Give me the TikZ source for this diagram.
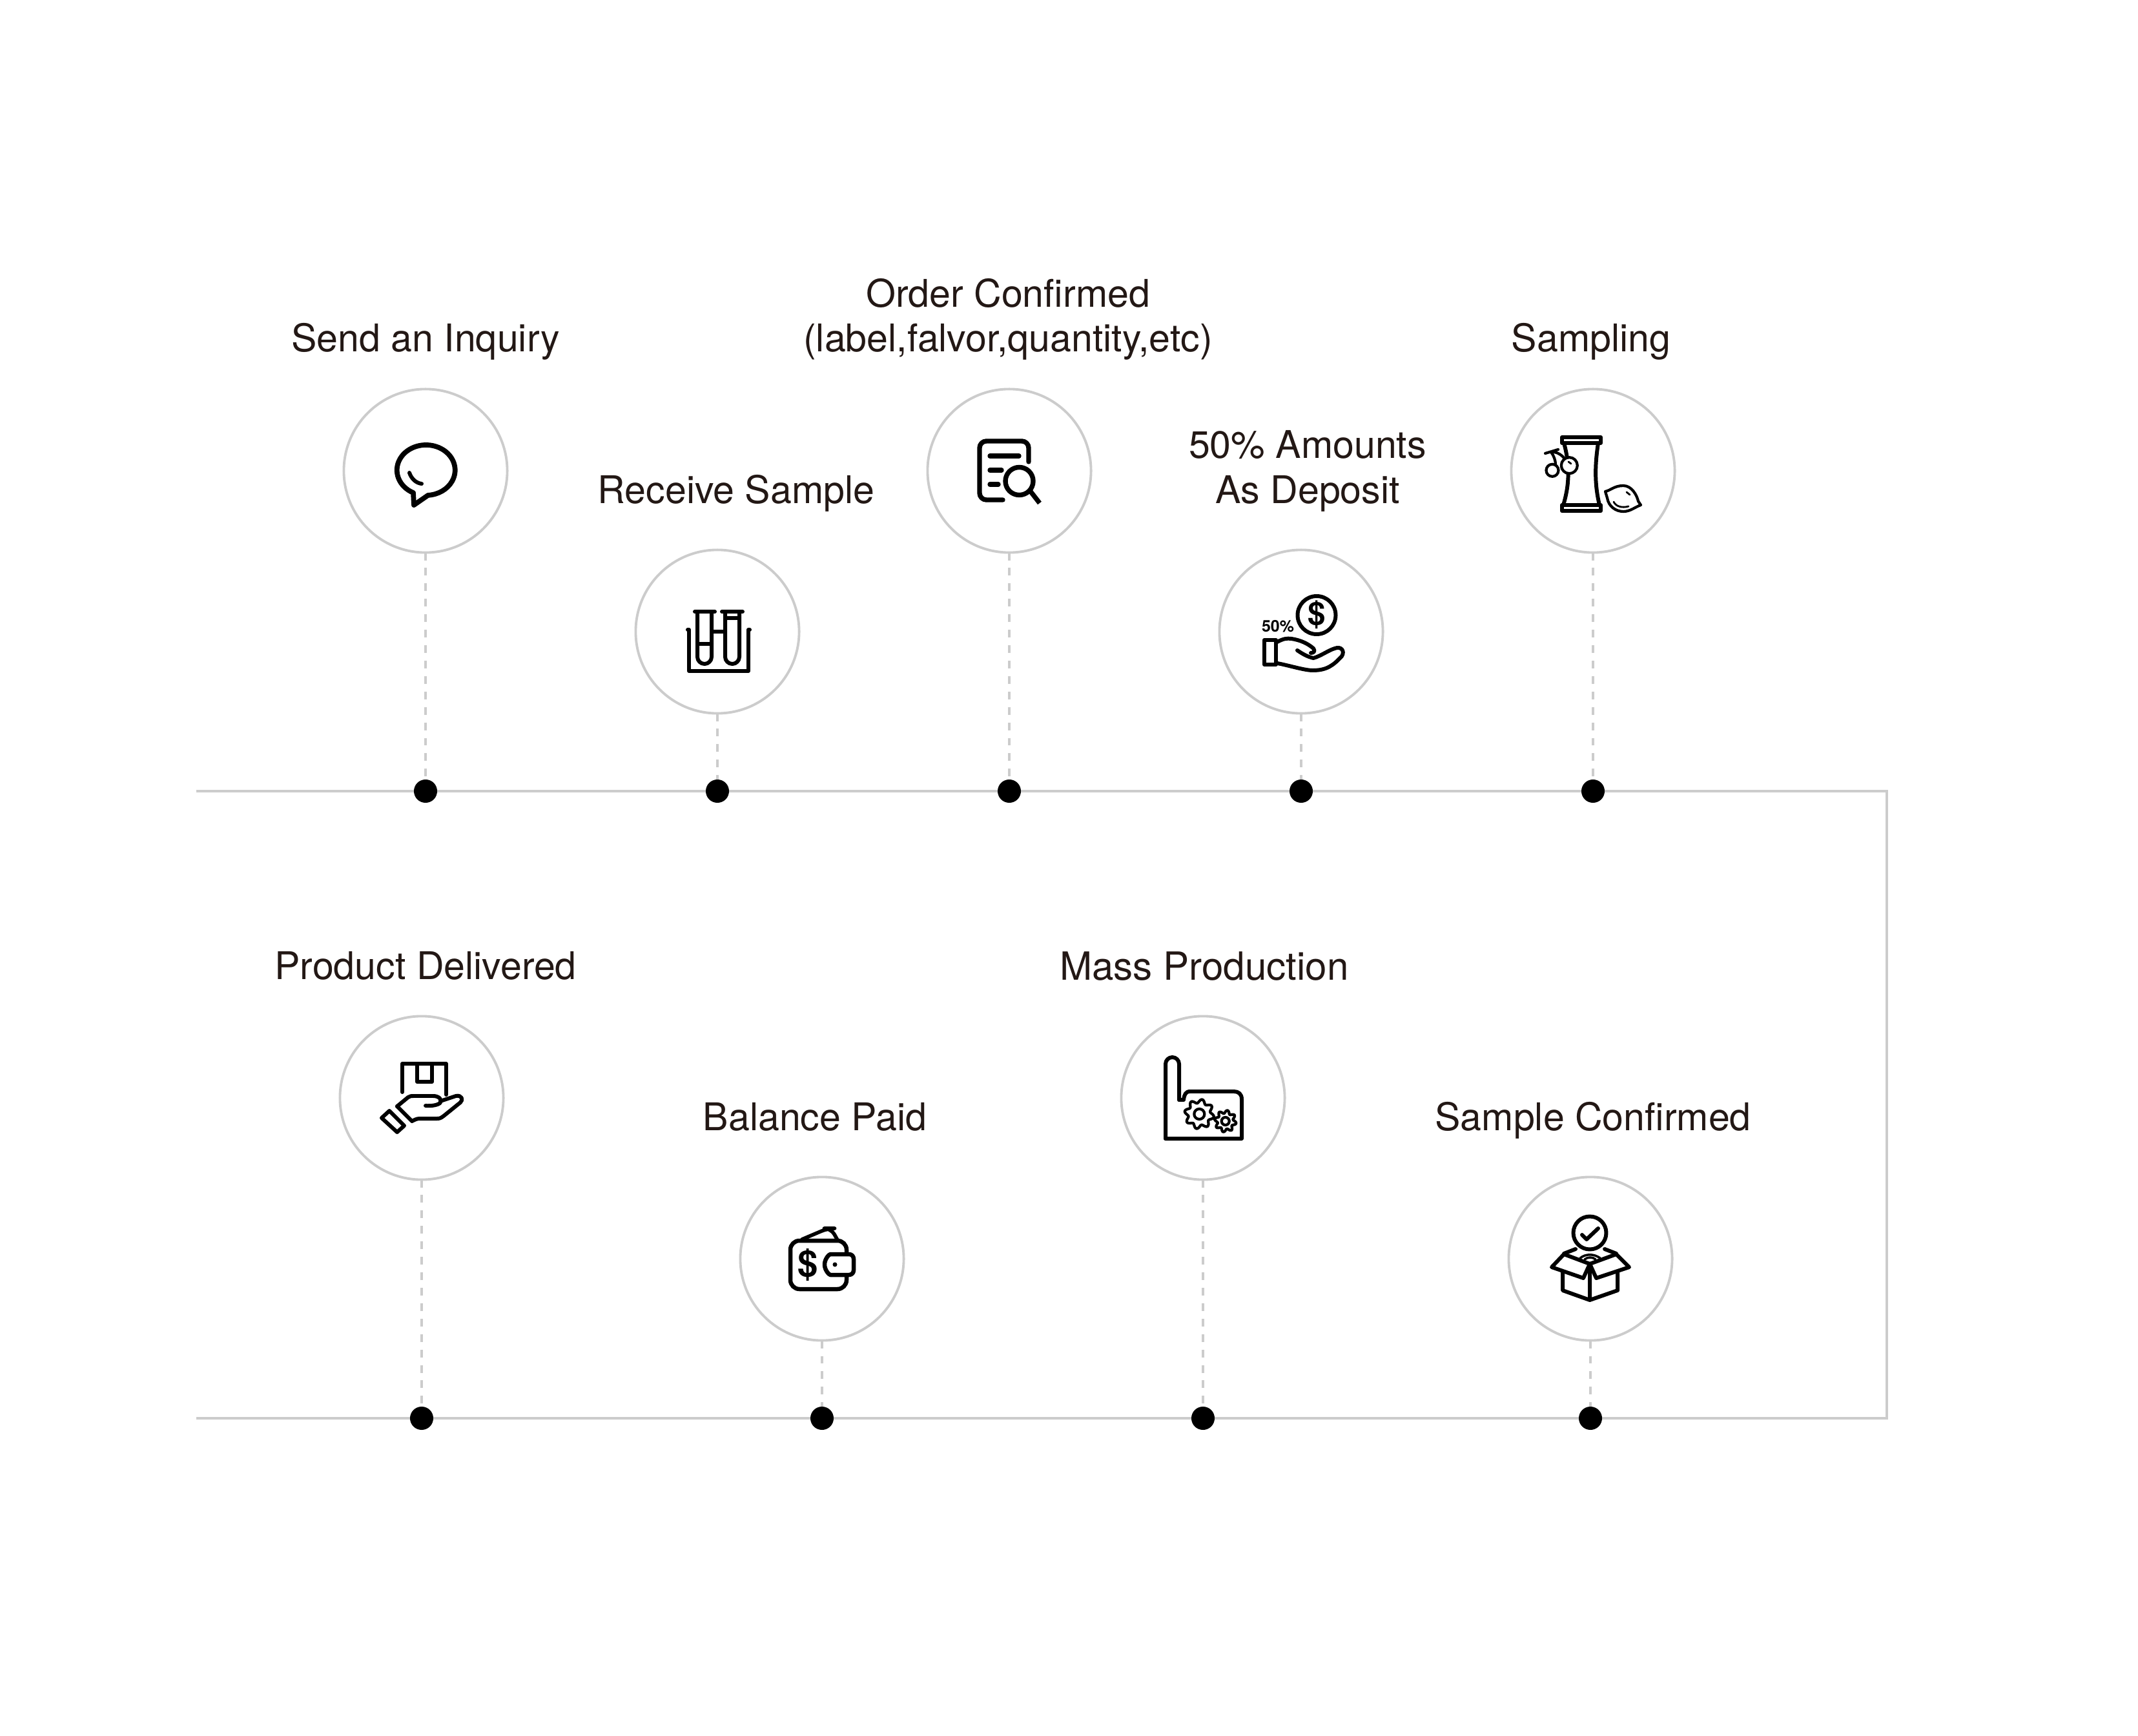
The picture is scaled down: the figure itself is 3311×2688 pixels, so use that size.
\documentclass[tikz,border=0pt]{standalone}
\usepackage{fontspec}
\setmainfont{TeX Gyre Heros}
\usepackage{xcolor}
\usepackage{tikz}
\usetikzlibrary{calc}
\definecolor{flowgrey}{HTML}{CCCCCC}
\definecolor{flowtext}{HTML}{231815}
\tikzset{
  mainline/.style={draw=flowgrey, line width=1.15pt},
  dashline/.style={draw=flowgrey, line width=1.15pt, dash pattern=on 3.4pt off 3.4pt},
  hubcircle/.style={circle, draw=flowgrey, fill=white, line width=1.1pt, inner sep=0pt, outer sep=0pt, minimum size=2.53cm},
  linedot/.style={circle, fill=black, inner sep=0pt, outer sep=0pt, minimum size=0.36cm},
  steplabel/.style={anchor=base, align=center, inner sep=0pt, text=flowtext, font=\fontsize{16.8}{19.9}\selectfont},
  iconline/.style={draw=black, line width=1.7pt, line join=round, line cap=round},
  iconthin/.style={draw=black, line width=1.2pt, line join=round, line cap=round},
  icontext/.style={inner sep=0pt, text=black, font=\bfseries\fontsize{16}{16}\selectfont}
}
\begin{document}
\begin{tikzpicture}[x=0.01cm, y=-0.01cm]
  \useasboundingbox (0,0) rectangle (3311,2688);
  \coordinate (topstart) at (304,1225);
  \coordinate (topcorner) at (2922,1225);
  \coordinate (botcorner) at (2922,2196);
  \coordinate (botstart) at (304,2196);
  \draw[mainline] (topstart) -- (topcorner) -- (botcorner) -- (botstart);

  \node[hubcircle] (inquiryhub) at (659,729) {};
  \node[hubcircle] (receivehub) at (1111,978) {};
  \node[hubcircle] (orderhub) at (1563,729) {};
  \node[hubcircle] (deposithub) at (2015,978) {};
  \node[hubcircle] (samplinghub) at (2467,729) {};
  \node[hubcircle] (deliveredhub) at (653,1700) {};
  \node[hubcircle] (balancehub) at (1273,1949) {};
  \node[hubcircle] (masshub) at (1863,1700) {};
  \node[hubcircle] (confirmedhub) at (2463,1949) {};

  \node[linedot] (inquirydot) at (659,1225) {};
  \node[linedot] (receivedot) at (1111,1225) {};
  \node[linedot] (orderdot) at (1563,1225) {};
  \node[linedot] (depositdot) at (2015,1225) {};
  \node[linedot] (samplingdot) at (2467,1225) {};
  \node[linedot] (delivereddot) at (653,2196) {};
  \node[linedot] (balancedot) at (1273,2196) {};
  \node[linedot] (massdot) at (1863,2196) {};
  \node[linedot] (confirmeddot) at (2463,2196) {};

  \draw[dashline] (inquiryhub) -- (inquirydot);
  \draw[dashline] (receivehub) -- (receivedot);
  \draw[dashline] (orderhub) -- (orderdot);
  \draw[dashline] (deposithub) -- (depositdot);
  \draw[dashline] (samplinghub) -- (samplingdot);
  \draw[dashline] (deliveredhub) -- (delivereddot);
  \draw[dashline] (balancehub) -- (balancedot);
  \draw[dashline] (masshub) -- (massdot);
  \draw[dashline] (confirmedhub) -- (confirmeddot);

  \node[steplabel] (inquirytext) at (659,545) {Send an Inquiry};
  \node[steplabel] (receivetext) at (1140,779) {Receive Sample};
  \node[steplabel] (ordertext) at (1561,545) {Order Confirmed\\(label,falvor,quantity,etc)};
  \node[steplabel] (deposittext) at (2025,779) {50\% Amounts\\As Deposit};
  \node[steplabel] (samplingtext) at (2464,545) {Sampling};
  \node[steplabel] (deliveredtext) at (659,1516) {Product Delivered};
  \node[steplabel] (balancetext) at (1262,1750) {Balance Paid};
  \node[steplabel, font=\fontsize{17.1}{19.9}\selectfont] (masstext) at (1865,1517) {Mass Production};
  \node[steplabel] (confirmedtext) at (2467,1750) {Sample Confirmed};

  \begin{scope}[shift={(inquiryhub.center)}]
    \draw[iconline, line width=2.2pt] (-19,34) arc[start angle=116, end angle=446, x radius=45, y radius=39] -- (-18,53) -- cycle;
    \draw[iconline] (-25,3) .. controls (-22,12) and (-15,19) .. (-6,20);
  \end{scope}

  \begin{scope}[shift={(receivehub.center)}]
    \draw[iconline] (-46,-3) -- (-44,-3) -- (-44,61) -- (48,61) -- (48,-3) -- (50,-3);
    \draw[iconline] (-35,-31) -- (-4,-31) (7,-31) -- (39,-31);
    \draw[iconline] (-31,-31) -- (-31,39) arc[start angle=180, end angle=0, radius=11] -- (-9,-31);
    \draw[iconline] (12,-31) -- (12,39) arc[start angle=180, end angle=0, radius=11] -- (34,-31);
    \draw[iconline] (-9,0) -- (12,0) (-31,19) -- (-9,19) (12,-21) -- (34,-21);
  \end{scope}

  \begin{scope}[shift={(orderhub.center)}]
    \draw[iconline, line width=2.1pt, rounded corners=3pt] (30,-14) -- (30,-46) -- (-46,-46) -- (-46,45) -- (-10,45);
    \draw[iconline, line width=2.1pt] (-30,-23) -- (15,-23) (-30,-1) -- (-12,-1) (-30,21) -- (-17,21);
    \draw[iconline, line width=2.1pt] (15.5,16) circle[radius=21.5];
    \draw[iconline, line width=2.1pt, line cap=butt] (33,32) -- (47,50);
  \end{scope}

  \begin{scope}[shift={(deposithub.center)}]
    \draw[iconline] (24,-25.5) circle[radius=29.5];
    \node[icontext, font=\bfseries\fontsize{14}{14}\selectfont] (depositsign) at (24,-26) {\$};
    \node[icontext, font=\bfseries\fontsize{7.1}{7.1}\selectfont] (depositpercent) at (-36,-8) {50\%};
    \draw[iconline] (-57,13) rectangle (-39,51);
    \draw[iconline] (-37,16) .. controls (-28,11) and (-22,10) .. (-15,11)
      .. controls (-2,13) and (10,18) .. (19,26)
      .. controls (22,30) and (20,33) .. (15,33)
      (-6,29) .. controls (3,35) and (10,39) .. (19,41)
      .. controls (30,38) and (42,29) .. (52,26)
      .. controls (62,22) and (68,30) .. (63,38)
      .. controls (50,52) and (40,60) .. (18,60)
      .. controls (5,60) and (-20,52) .. (-37,49);
  \end{scope}

  \begin{scope}[shift={(samplinghub.center)}]
    \draw[iconline] (-48,-52) rectangle (12,-43) (-48,53) rectangle (12,62);
    \draw[iconline] (-45,-43) .. controls (-36,-10) and (-36,20) .. (-46,53);
    \draw[iconline] (8,-43) .. controls (3,-10) and (2,20) .. (10,53);
    \draw[iconline, line width=1.2pt, fill=white] (-36.7,-8.3) circle[radius=12.5];
    \draw[iconline, line width=1.2pt] (-63,-0.7) circle[radius=9.5];
    \draw[iconline, line width=1.2pt] (-74,-27) -- (-54,-33) (-65,-29) .. controls (-58,-30) and (-50,-26) .. (-45,-20) (-65,-29) .. controls (-61,-24) and (-58,-16) .. (-58,-10);
    \draw[iconline, line width=0.8pt] (-38,-14) -- (-34,-11);
    \draw[iconline, line width=1.2pt] (19,32) .. controls (28,30) and (33,23) .. (47,23)
      .. controls (60,23) and (68,38) .. (70,47) -- (74,53)
      .. controls (65,56) and (58,63) .. (47,63)
      .. controls (35,63) and (24,55) .. (22,42) -- cycle;
    \draw[iconline, line width=0.8pt] (32,48) .. controls (35,55) and (45,58) .. (55,55) (52,33) -- (57,37);
  \end{scope}

  \begin{scope}[shift={(deliveredhub.center)}]
    \draw[iconline] (-30,-9) -- (-30,-53) -- (38,-53) -- (38,-5);
    \draw[iconline] (-7,-52) -- (-7,-25) -- (16,-25) -- (16,-52);
    \draw[iconline] (-38,13) -- (-21,-1) .. controls (-18,-3) and (-16,-3) .. (-13,-3) -- (18,-3)
      .. controls (26,-3) and (32,2) .. (29,7) .. controls (27,11) and (14,13) .. (6,12);
    \draw[iconline] (29,5) -- (53,-3) .. controls (62,-5) and (65,3) .. (60,7)
      -- (34,28) .. controls (30,31) and (28,32) .. (24,32) -- (-3,32) .. controls (-8,32) and (-11,34) .. (-15,36) -- (-38,13);
    \draw[iconline] (-50,20) -- (-27,43) -- (-38,53) -- (-62,31) -- cycle;
  \end{scope}

  \begin{scope}[shift={(balancehub.center)}]
    \draw[iconline, line width=1.85pt, rounded corners=4pt] (38,-10) -- (38,-28) -- (-49,-28) -- (-49,47) -- (38,47) -- (38,28);
    \draw[iconline, line width=1.85pt, rounded corners=2pt] (49,-7) -- (49,25) -- (20,25) arc[start angle=90, end angle=270, radius=16] -- cycle;
    \fill (20,9) circle[radius=3.5];
    \draw[iconline, line width=1.6pt, rounded corners=3pt] (-31,-30) -- (9,-47) -- (14,-47) -- (24,-29);
    \node[icontext] (balancesign) at (-22,10) {\$};
  \end{scope}

  \begin{scope}[shift={(masshub.center)}]
    \draw[iconline, rounded corners=3pt] (-58,63) -- (-58,-63) -- (-37,-63) -- (-37,3);
    \draw[iconline] (-37,3) -- (-30,3) .. controls (-29,-5) and (-27,-10) .. (-20,-10) -- (48,-10) .. controls (55,-10) and (60,-6) .. (60,2) -- (60,63) -- (-58,63);
    \begin{scope}[shift={(-5.7,25)}]
      \draw[iconthin] plot[domain=0:360, samples=73, smooth] (\x:{20+3*sin(8*\x)}) -- cycle;
      \draw[iconthin] (0,0) circle[radius=8];
    \end{scope}
    \begin{scope}[shift={(34.7,36)}]
      \draw[iconthin] plot[domain=0:360, samples=73, smooth] (\x:{14.5+2.5*sin(8*\x)}) -- cycle;
      \draw[iconthin] (0,0) circle[radius=6];
    \end{scope}
  \end{scope}

  \begin{scope}[shift={(confirmedhub.center)}]
    \draw[iconline] (-1,-40) circle[radius=25.5];
    \draw[iconline] (-13,-37) -- (-6,-30) -- (12,-47);
    \draw[iconline] (-43,21) -- (-43,49) -- (-1,64) -- (42,49) -- (42,21) (-1,8) -- (-1,64);
    \draw[iconline] (-1,8) -- (-41,-7) -- (-60,13) -- (-11,30) -- cycle;
    \draw[iconline] (-1,8) -- (40,-7) -- (60,13) -- (9,30) -- cycle;
    \draw[iconline] (-41,-8) -- (-23,-15) (22,-15) -- (40,-8);
    \draw[iconline, line width=1pt] (-16,-1) .. controls (-7,-8) and (5,-8) .. (15,-1);
    \draw[iconline, line width=1pt] (-9,1) .. controls (-4,-3) and (3,-3) .. (8,1);
  \end{scope}
\end{tikzpicture}
\end{document}
